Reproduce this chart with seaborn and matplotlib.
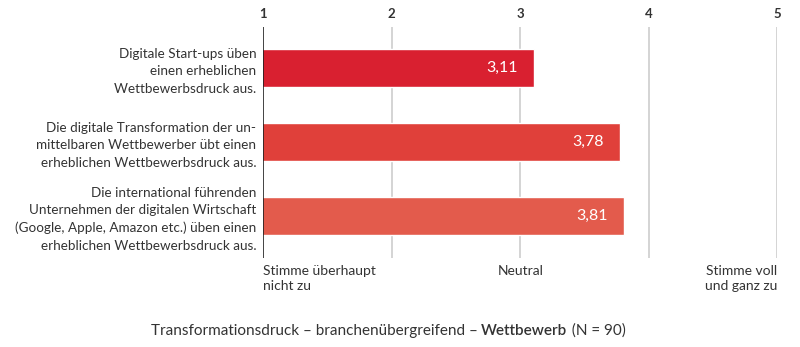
import matplotlib
matplotlib.use("Agg")
import matplotlib.pyplot as plt
import seaborn as sns
import pandas as pd

statements = [
    "Digitale Start-ups üben\neinen erheblichen\nWettbewerbsdruck aus.",
    "Die digitale Transformation der un-\nmittelbaren Wettbewerber übt einen\nerheblichen Wettbewerbsdruck aus.",
    "Die international führenden\nUnternehmen der digitalen Wirtschaft\n(Google, Apple, Amazon etc.) üben einen\nerheblichen Wettbewerbsdruck aus.",
]
scores = [3.11, 3.78, 3.81]
value_labels = ["3,11", "3,78", "3,81"]
scale_ticks = [1, 2, 3, 4, 5]
scale_anchors = ["Stimme überhaupt\nnicht zu", "Neutral", "Stimme voll\nund ganz zu"]
bar_colors = ["#d92030", "#e0403a", "#e35b4c"]

sns.set_theme(style="white")
plt.rcParams["font.family"] = ["Lato", "DejaVu Sans"]

df = pd.DataFrame({"statement": statements, "score": scores})

fig = plt.figure(figsize=(8, 3.47), dpi=100)
ax = fig.add_axes([0.329, 0.2565, 0.6425, 0.6657])

sns.barplot(data=df, y="statement", x="score", hue="statement",
            palette=bar_colors, orient="h", width=0.51, legend=False,
            ax=ax, saturation=1, zorder=3)

ax.set_xlim(1, 5)
ax.set_ylim(2.57, -0.55)

# vertical scale lines
for t in scale_ticks[1:]:
    ax.axvline(t, color="#c9c9c9", lw=1.1, zorder=1)
ax.axvline(1, color="#222222", lw=1.2, zorder=4)

for s in ax.spines.values():
    s.set_visible(False)

ax.xaxis.tick_top()
ax.set_xticks(scale_ticks)
ax.set_xticklabels([str(t) for t in scale_ticks], fontsize=9.5,
                   color="#333333", fontweight="bold")
ax.tick_params(axis="x", length=0, pad=5)
ax.set_xlabel("")
ax.set_ylabel("")

ax.tick_params(axis="y", length=0, pad=5)
for lbl in ax.get_yticklabels():
    lbl.set_fontsize(9.75)
    lbl.set_color("#333333")
    lbl.set_linespacing(1.52)
    lbl.set_horizontalalignment("right")
    lbl.set_multialignment("right")

# value labels inside the bars
for i, (v, txt) in enumerate(zip(scores, value_labels)):
    ax.annotate(txt, xy=(v, i), xytext=(-12, 0), textcoords="offset points",
                ha="right", va="center", color="white", fontsize=11.5, zorder=5)

# scale anchor labels beneath the axis
trans = ax.get_xaxis_transform()
ax.text(1, -0.03, scale_anchors[0], transform=trans, ha="left", va="top",
        fontsize=10, color="#333333", linespacing=1.3)
ax.text(3, -0.03, scale_anchors[1], transform=trans, ha="center", va="top",
        fontsize=10, color="#333333")
ax.text(5, -0.03, scale_anchors[2], transform=trans, ha="right", va="top",
        fontsize=10, color="#333333", linespacing=1.3, multialignment="right")

# caption with emphasised topic
parts = [("Transformationsdruck – branchenübergreifend – ", "normal"),
         ("Wettbewerb", "semibold"),
         (" (N = 90)", "normal")]
fig.canvas.draw()
renderer = fig.canvas.get_renderer()
texts = []
x = 0.0
for s, w in parts:
    t = fig.text(x, 0.035, s, fontsize=11, color="#333333", fontweight=w,
                 ha="left", va="baseline")
    texts.append(t)
    bb = t.get_window_extent(renderer=renderer)
    x += bb.width / fig.bbox.width
total = x
x = 0.485 - total / 2
for t in texts:
    t.set_x(x)
    bb = t.get_window_extent(renderer=renderer)
    x += bb.width / fig.bbox.width

fig.savefig("out.png", dpi=100, facecolor="white")
